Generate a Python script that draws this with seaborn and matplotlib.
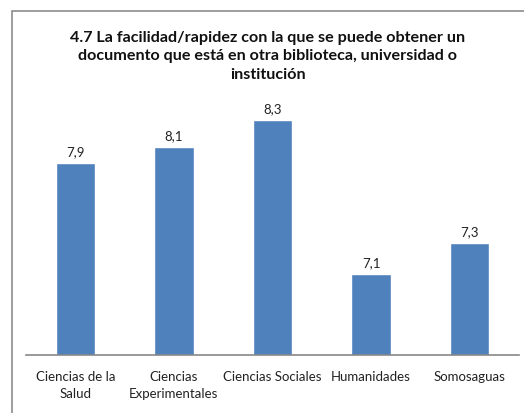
import pandas as pd
import seaborn as sns
import matplotlib.pyplot as plt
from matplotlib.patches import Rectangle

# Datos (valor medio por campus / area)
categorias = ["Ciencias de la\nSalud", "Ciencias\nExperimentales", "Ciencias Sociales",
              "Humanidades", "Somosaguas"]
valores = [7.94, 8.06, 8.26, 7.11, 7.34]

df = pd.DataFrame({"area": categorias, "valor": valores})

sns.set_style("white")
plt.rcParams["font.family"] = ["Lato", "DejaVu Sans"]

fig = plt.figure(figsize=(5.24, 4.14), dpi=100)
ax = fig.add_axes([26/524, 1-356/414, (519-26)/524, (356-89)/414])

sns.barplot(data=df, x="area", y="valor", color="#4F81BD", width=0.4,
            saturation=1, ax=ax)

ax.bar_label(ax.containers[0], fmt=lambda v: f"{v:.1f}".replace(".", ","),
             padding=4, fontsize=9.5, color="#222222")

ax.set_ylim(6.5, 8.5)
ax.set_xlim(-0.5, 4.5)
ax.set_xlabel("")
ax.set_ylabel("")
ax.set_yticks([])
for s in ["left", "right", "top"]:
    ax.spines[s].set_visible(False)
ax.spines["bottom"].set_color("#888888")
ax.spines["bottom"].set_linewidth(1.2)
ax.tick_params(axis="x", length=0, pad=11, labelsize=9.5, colors="#222222")
for t in ax.get_xticklabels():
    t.set_linespacing(1.45)

# marco del area del grafico
fig.patches.append(Rectangle((12/524, -0.05), 1.1, 1-12/414+0.05,
                             transform=fig.transFigure, fill=False,
                             edgecolor="#8c8c8c", linewidth=1.2))

fig.text(268/524, 1-56.5/414,
         "4.7 La facilidad/rapidez con la que se puede obtener un\n"
         "documento que está en otra biblioteca, universidad o\n"
         "institución",
         ha="center", va="center", fontsize=11.6, fontweight="bold",
         color="#111111", linespacing=1.45)

fig.savefig("out.png", dpi=100)
